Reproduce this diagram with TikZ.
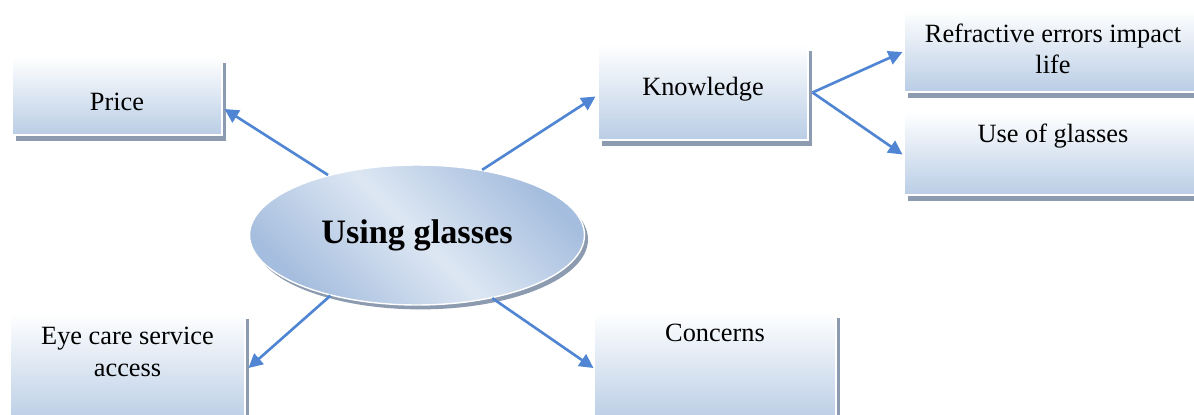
\documentclass[tikz,border=0pt]{standalone}
\usepackage{fontspec}
\setmainfont{Liberation Serif}
\usetikzlibrary{calc}
\usetikzlibrary{arrows.meta}
\usetikzlibrary{shapes.geometric}
\usetikzlibrary{shadows}

\definecolor{boxblue}{RGB}{185,205,229}
\definecolor{ellipselight}{RGB}{221,231,243}
\definecolor{ellipsedark}{RGB}{165,189,222}
\definecolor{shadowgray}{RGB}{141,155,176}
\definecolor{arrowblue}{RGB}{79,133,210}

\begin{document}
\begin{tikzpicture}[x=0.02cm,y=-0.02cm]
    \tikzstyle{topic box}=[rectangle,inner sep=0pt,top color=white,bottom color=boxblue,draw=white,line width=0.6pt,general shadow={fill=shadowgray,shadow xshift=2.2pt,shadow yshift=-3.2pt}]
    \tikzstyle{topic text}=[align=center,font=\fontsize{15}{18}\selectfont,text=black]
    \tikzstyle{link}=[-{Triangle[length=8pt,width=8pt]},line width=1.5pt,color=arrowblue]

    \useasboundingbox (0,0) rectangle (1194,414);

    % Centre
    \node[ellipse,minimum width=6.7cm,minimum height=2.8cm,inner sep=0pt,
          left color=ellipsedark,right color=ellipsedark,middle color=ellipselight,shading angle=-45,
          draw=white,line width=0.8pt,general shadow={fill=shadowgray,shadow xshift=2pt,shadow yshift=-2.5pt},
          font=\bfseries\fontsize{19.5}{22}\selectfont] (glasses) at (417,235) {Using glasses};

    % Left
    \node[topic box,minimum width=4.2cm,minimum height=1.56cm] (price) at (117,96) {};
    \node[topic text] (price text) at ($(price)+(0,6)$) {Price};
    \node[topic box,minimum width=4.7cm,minimum height=2.2cm] (eye care) at (127.5,368) {};
    \node[topic text] (eye care text) at ($(eye care)+(0,-16)$) {Eye care service\\access};

    % Middle
    \node[topic box,minimum width=4.2cm,minimum height=1.9cm] (knowledge) at (703,92.5) {};
    \node[topic text] (knowledge text) at ($(knowledge)+(0,-3)$) {Knowledge};
    \node[topic box,minimum width=4.84cm,minimum height=2.2cm] (concerns) at (715,367) {};
    \node[topic text] (concerns text) at ($(concerns)+(0,-34)$) {Concerns};

    % Right
    \node[topic box,minimum width=6cm,minimum height=1.64cm] (refractive) at (1054,51) {};
    \node[topic text] (refractive text) at ($(refractive)+(-1,-2)$) {Refractive errors impact\\life};
    \node[topic box,minimum width=6cm,minimum height=1.66cm] (use) at (1054,153.5) {};
    \node[topic text] (use text) at ($(use)+(-1,-17)$) {Use of glasses};

    % Links
    \draw[style=link] (glasses.146) -- ($(price.east)+(2,13)$);
    \draw[style=link] (glasses.45) -- ($(knowledge.west)+(-2,4)$);
    \draw[style=link] (glasses.215) -- ($(eye care.east)+(3,0)$);
    \draw[style=link] (glasses.-40) -- ($(concerns.west)+(0,1)$);
    \draw[style=link] ($(knowledge.east)+(4,0)$) -- ($(refractive.west)+(-1,1)$);
    \draw[style=link] ($(knowledge.east)+(4,0)$) -- ($(use.west)+(-1,1)$);

\end{tikzpicture}
\end{document}
